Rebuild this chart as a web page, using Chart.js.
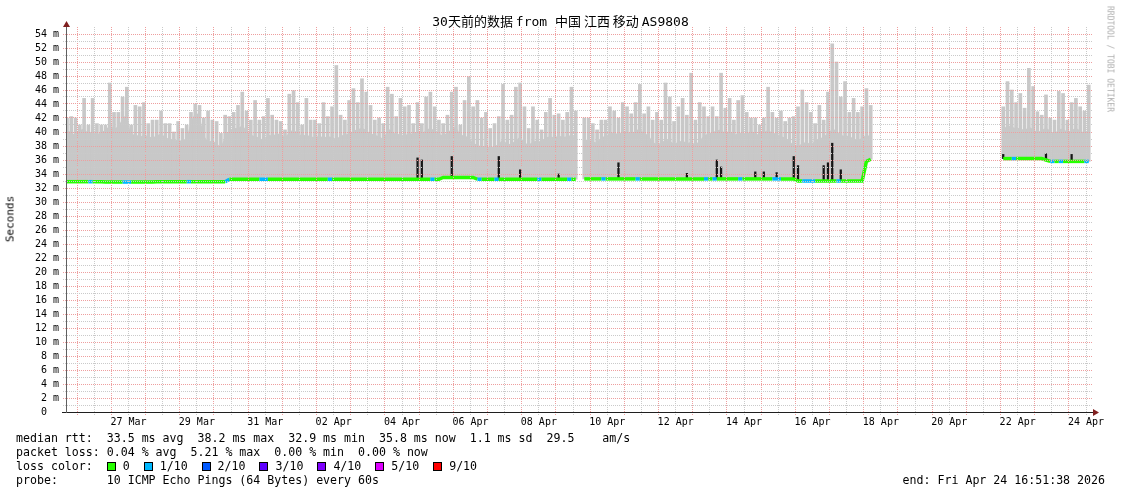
<!DOCTYPE html>
<html>
<head>
<meta charset="utf-8">
<title>SmokePing 30 days</title>
<script src="https://cdn.jsdelivr.net/npm/chart.js@4.4.1/dist/chart.umd.min.js"></script>
<style>
  html, body { margin: 0; padding: 0; background: #fff; }
  #wrap { position: relative; width: 1121px; height: 494px; overflow: hidden; background: #fff; }
  #chart { position: absolute; left: 0; top: 0; }
  .t { position: absolute; font-family: "DejaVu Sans Mono", monospace; white-space: pre; color: #000; }
  #title { left: 0; top: 13px; width: 1121px; text-align: center; font-size: 13px; line-height: 16px;
           font-family: "DejaVu Sans Mono", "Noto Sans CJK SC", monospace; }
  #title .n { font-family: "Noto Sans CJK SC", sans-serif; }
  #ylabel { left: 10px; top: 219px; font-size: 11px; transform: translate(-50%, -50%) rotate(-90deg); }
  #credit { left: 1110px; top: 59px; font-size: 8px; color: #b0b0b0; transform: translate(-50%, -50%) rotate(90deg); }
  .leg { left: 16px; font-size: 11.6px; line-height: 14px; }
  #end { right: 16px; top: 473px; font-size: 11.6px; line-height: 14px; }
  .box { display: inline-block; width: 7px; height: 7px; border: 1px solid #000; margin-right: 7px; vertical-align: -1px; }
</style>
</head>
<body>
<div id="wrap">
  <canvas id="chart" width="1121" height="494"></canvas>
  <div class="t" id="title">30天前的数据<span class="n"> </span>from 中国<span class="n"> </span>江西<span class="n"> </span>移动<span class="n"> </span>AS9808</div>
  <div class="t" id="ylabel">Seconds</div>
  <div class="t" id="credit">RRDTOOL / TOBI OETIKER</div>
  <div class="t leg" style="top:431px">median rtt:  33.5 ms avg  38.2 ms max  32.9 ms min  35.8 ms now  1.1 ms sd  29.5    am/s</div>
  <div class="t leg" style="top:445px">packet loss: 0.04 % avg  5.21 % max  0.00 % min  0.00 % now</div>
  <div class="t leg" id="lossRow" style="top:459px"></div>
  <div class="t leg" style="top:473px">probe:       10 ICMP Echo Pings (64 Bytes) every 60s</div>
  <div class="t" id="end">end: Fri Apr 24 16:51:38 2026</div>
</div>
<script>
// one sample every 3 hours, starting Wed Mar 25 16:51:38 (30 days -> 240 samples)
const STEP_H = 3;
const SPAN_H = 720;
const FIRST_MIDNIGHT_H = 7.1394; // Mar 25 16:51:38 -> Mar 26 00:00

// median rtt (ms)
const median = [
  32.9,32.9,32.9,32.9,32.9,32.9,32.9,32.9,32.9,32.85,
  32.85,32.85,32.85,32.85,32.85,32.85,32.85,32.85,32.85,32.85,
  32.85,32.9,32.9,32.9,32.9,32.9,32.9,32.9,32.9,32.9,
  32.9,32.9,32.9,32.9,32.9,32.9,32.9,32.9,33.25,33.25,
  33.25,33.25,33.25,33.25,33.25,33.25,33.25,33.25,33.25,33.25,
  33.25,33.25,33.25,33.25,33.25,33.25,33.25,33.25,33.25,33.25,
  33.25,33.25,33.25,33.25,33.25,33.25,33.25,33.25,33.25,33.25,
  33.25,33.25,33.25,33.25,33.25,33.25,33.25,33.25,33.25,33.25,
  33.25,33.25,33.25,33.25,33.25,33.25,33.25,33.25,33.5,33.5,
  33.5,33.5,33.5,33.5,33.5,33.5,33.25,33.25,33.25,33.25,
  33.25,33.25,33.25,33.25,33.25,33.25,33.25,33.25,33.25,33.25,
  33.25,33.25,33.25,33.25,33.25,33.25,33.25,33.25,33.25,33.25,
  null,33.3,33.3,33.3,33.3,33.3,33.3,33.3,33.3,33.3,
  33.3,33.3,33.3,33.3,33.3,33.3,33.3,33.3,33.3,33.3,
  33.3,33.3,33.3,33.3,33.3,33.3,33.3,33.3,33.3,33.3,
  33.3,33.3,33.3,33.3,33.3,33.3,33.3,33.3,33.3,33.3,
  33.3,33.3,33.3,33.3,33.3,33.3,33.3,33.3,33.3,33.3,
  33.3,33.0,33.0,33.0,33.0,33.0,33.0,33.0,33.0,33.0,
  33.0,33.0,33.0,33.0,33.0,33.0,33.0,35.8,36.1,null,
  null,null,null,null,null,null,null,null,null,null,
  null,null,null,null,null,null,null,null,null,null,
  null,null,null,null,null,null,null,null,null,36.2,
  36.2,36.2,36.2,36.2,36.2,36.2,36.2,36.2,36.2,36.0,
  35.8,35.8,35.8,35.8,35.8,35.8,35.8,35.8,35.8,35.8
];

// top of the smoke (slowest ping, ms)
const smokeMax = [
  42,42.2,42,41,44.8,41,44.8,41.2,41,41,
  47,42.8,42.8,45,46.4,41,43.8,43.6,44.2,41.2,
  41.7,41.7,43,41.2,41.2,40,41.5,40.5,41,42.8,
  44,43.8,42,43,41.7,41.5,39.8,42.4,42.2,42.8,
  43.8,45.7,43,41.7,44.5,41.7,42.2,44.8,42.4,41.7,
  41.5,40.3,45.4,45.9,44.2,41,44.8,41.7,41.7,41.2,
  44.2,42.2,43.6,49.5,42.4,41.7,44.5,46.2,44.2,47.6,
  45.7,43.8,41.7,42,41.2,46.4,45.4,42.2,44.8,43.6,
  43.8,41.2,44.2,41.2,45,45.7,43.6,41.7,41.2,42.4,
  45.7,46.4,41,44.5,47.9,43.6,44.5,42,42.8,40.5,
  41.2,42.2,46.8,41.7,42.4,46.4,47,43.6,40.5,43.6,
  41.7,40.3,42.8,44.8,42.4,42.6,41.7,42.8,46.4,43,
  null,42,42,41.2,40.3,41.7,41.7,43.6,43,42,
  44.2,43.6,42.6,44.2,46.8,42.6,43.6,41.7,42.8,41.7,
  47,45,41.5,43.6,44.8,42.4,48.4,41.7,44.2,43.6,
  42.2,43.6,42.2,48.4,43.4,44.8,41.7,44.5,45.2,42.8,
  42,42,41,42,46.4,42.8,42,43,41.5,42,
  42.2,43.6,46,44.2,42.8,41.2,43.8,41.7,45.7,52.6,
  50,45,47.2,42.8,44.8,42.8,43.6,46.2,43.8,null,
  null,null,null,null,null,null,null,null,null,null,
  null,null,null,null,null,null,null,null,null,null,
  null,null,null,null,null,null,null,null,null,43.6,
  47.2,46,44.2,45.5,43.4,49.1,46.5,42.9,42.4,45.3,
  42,41.7,45.8,45.5,41.7,44.2,44.8,43.6,43,46.7
];

// level up to which the smoke is dense (ms)
const smokeBase = [
  40.2,40,39.5,40.3,40.5,39.8,40.2,39.6,40,40.3,
  41,40.5,40.8,42,42.5,39.5,39.8,39.3,39.6,39.4,
  39.2,39.5,39.8,39.3,39,38.8,38.9,38.7,39.2,41.5,
  42.8,42.5,39.5,38.6,38.8,38.4,37.8,39.5,40.2,40.6,
  40.5,41,40.2,39.6,39.4,39.2,38.8,39.6,39.5,39.7,
  39.8,39.2,40,40.4,39.8,39.5,39.6,39.4,39.2,39.5,
  39.2,39.4,39.3,39,39.5,39.6,39.8,40.2,40.4,40.6,
  40.3,39.8,39.6,39.4,39,40.5,40.2,39.6,39.8,39.4,
  40,39.6,40.2,39.8,40.3,40.6,40.2,39.7,39.5,40,
  40.4,40.8,39.6,39.5,39.2,38.4,38.2,37.9,38,37.8,
  38,38.3,39,38.2,38.4,38.8,39.4,38.5,38.2,38.6,
  38.8,38.6,39.2,39.4,39.2,39.5,39.3,39.4,39.6,39.2,
  null,38.8,39,38.6,38.5,39.2,39.5,39.8,40,39.6,
  40.2,40,39.8,40.2,40.5,39.8,39.6,38.6,38.2,38.5,
  38.9,38.8,38.3,38.6,38.8,38.4,38.6,38.2,38.8,39.5,
  39.8,40,40.2,40.4,39.8,40.3,39.6,39.8,40,39.7,
  40.2,39.8,39.6,40,40.3,39.9,39.8,39.4,39.2,38.6,
  38.2,38,38.4,38.6,38.2,38.8,39,39.4,39.8,40.5,
  40.2,39.6,39.4,39.5,39,38.8,39.2,39.6,39.4,null,
  null,null,null,null,null,null,null,null,null,null,
  null,null,null,null,null,null,null,null,null,null,
  null,null,null,null,null,null,null,null,null,40.4,
  41,40.8,40.5,40.6,40.2,40.8,40.4,40,40.3,40.6,
  40.2,39.8,40.4,40.5,40,40.3,40.6,40.2,39.9,40.2
];

// dark smoke spikes: sample index and top (ms)
const spikeIdx = [82,83,90,101,106,115,129,145,152,153,161,163,166,170,171,177,178,179,181,219,229,235];
const spikeTop = [36.3,36.0,36.5,36.5,34.6,34.0,35.6,34.1,36.0,35.0,34.3,34.3,34.2,36.5,35.2,35.2,35.6,38.4,34.6,36.8,36.9,36.8];

// samples where 1 of 10 pings was lost
const lossIdx = [6,14,15,29,38,46,47,62,86,97,101,111,118,126,134,150,152,158,166,167,173,174,175,181,222,231,233,239];

// x axis labels, one every 2 days (placed at noon)
const xTickLabels = ['27 Mar','29 Mar','31 Mar','02 Apr','04 Apr','06 Apr','08 Apr','10 Apr',
                     '12 Apr','14 Apr','16 Apr','18 Apr','20 Apr','22 Apr','24 Apr'];

// legend
const lossLabels = ['0','1/10','2/10','3/10','4/10','5/10','9/10'];
const lossColors = ['#26ff00','#00b8ff','#0059ff','#5e00ff','#7e00ff','#dd00ff','#ff0000'];

const SMOKE = '#c8c8c8';
const GRID_MAJOR = '#ee9f9f';
const GRID_MINOR = '#cacaca';

// legend row with colour boxes
const lossRow = document.getElementById('lossRow');
let html = 'loss color:  ';
lossLabels.forEach((l, i) => {
    html += '<span class="box" style="background:' + lossColors[i] + '"></span>' + l + '  ';
});
lossRow.innerHTML = html;

// x grid: midnight (major) and noon (minor) for each of the 30 days
const xTicks = [];
for (let d = 0; d < 30; d++) {
    const mid = FIRST_MIDNIGHT_H + d * 24;
    xTicks.push({ value: mid, major: true, label: '' });
    xTicks.push({ value: mid + 12, major: false, label: (d % 2 === 1) ? xTickLabels[(d - 1) / 2] : '' });
}

const lossSet = new Set(lossIdx);
const hourAt = i => i * STEP_H;

const smokeBars = [];
smokeMax.forEach((v, i) => {
    if (v !== null && median[i] !== null) smokeBars.push({ x: hourAt(i), y: [median[i], v] });
});
const spikeBars = spikeIdx.map((k, j) => ({ x: hourAt(k), y: [median[k], spikeTop[j]] }));

const axesPlugin = {
    id: 'rrdAxes',
    afterDraw(chart) {
        const { ctx, chartArea: a } = chart;
        ctx.save();
        // x axis
        ctx.strokeStyle = '#1f1f1f';
        ctx.lineWidth = 1;
        ctx.beginPath();
        ctx.moveTo(a.left - 5, a.bottom + 0.5);
        ctx.lineTo(a.right + 1, a.bottom + 0.5);
        ctx.stroke();
        // y axis
        ctx.strokeStyle = '#606060';
        ctx.beginPath();
        ctx.moveTo(a.left - 0.5, a.bottom + 1);
        ctx.lineTo(a.left - 0.5, a.top - 1);
        ctx.stroke();
        // arrows
        ctx.fillStyle = '#801f1f';
        ctx.beginPath();
        ctx.moveTo(a.right, a.bottom - 3);
        ctx.lineTo(a.right, a.bottom + 4);
        ctx.lineTo(a.right + 6, a.bottom + 0.5);
        ctx.closePath();
        ctx.fill();
        ctx.beginPath();
        ctx.moveTo(a.left - 4, a.top);
        ctx.lineTo(a.left + 3, a.top);
        ctx.lineTo(a.left - 0.5, a.top - 6);
        ctx.closePath();
        ctx.fill();
        ctx.restore();
    }
};

const ctx = document.getElementById('chart').getContext('2d');
const chart = new Chart(ctx, {
    type: 'line',
    data: {
        datasets: [
            {
                type: 'line',
                label: 'median rtt',
                data: median.map((v, i) => ({ x: hourAt(i), y: v })),
                borderColor: lossColors[0],
                borderWidth: 3.5,
                borderCapStyle: 'butt',
                pointRadius: 0,
                fill: false,
                spanGaps: false,
                tension: 0,
                order: 0,
                segment: {
                    borderColor: c => lossSet.has(c.p1DataIndex) ? lossColors[1] : lossColors[0]
                }
            },
            {
                type: 'bar',
                label: 'spikes',
                data: spikeBars,
                backgroundColor: '#151515',
                borderWidth: 0,
                barThickness: 1.6,
                grouped: false,
                order: 1
            },
            {
                type: 'bar',
                label: 'smoke',
                data: smokeBars,
                backgroundColor: SMOKE,
                borderWidth: 0,
                barThickness: 3,
                grouped: false,
                order: 2
            },
            {
                type: 'line',
                label: 'smoke base',
                data: smokeBase.map((v, i) => ({ x: hourAt(i), y: v })),
                borderWidth: 0,
                borderColor: SMOKE,
                backgroundColor: SMOKE,
                pointRadius: 0,
                spanGaps: false,
                tension: 0,
                fill: { target: 0 },
                order: 3
            }
        ]
    },
    options: {
        responsive: false,
        devicePixelRatio: 1,
        animation: false,
        layout: { padding: { left: 0, right: 28, top: 27, bottom: 0 } },
        plugins: {
            legend: { display: false },
            tooltip: { enabled: false },
            title: { display: false }
        },
        scales: {
            x: {
                type: 'linear',
                min: 0,
                max: SPAN_H,
                offset: false,
                afterFit: s => { s.height = 82; },
                afterBuildTicks: s => { s.ticks = xTicks.map(t => ({ value: t.value })); },
                grid: {
                    z: 1,
                    offset: false,
                    color: c => (xTicks[c.index] && xTicks[c.index].major) ? GRID_MAJOR : GRID_MINOR,
                    tickLength: 3,
                    tickBorderDash: [1, 1]
                },
                border: { display: false, dash: [1, 1] },
                ticks: {
                    autoSkip: false,
                    maxRotation: 0,
                    padding: 1,
                    color: '#000',
                    font: { family: 'DejaVu Sans Mono', size: 10 },
                    callback: (v, i) => xTicks[i] ? xTicks[i].label : ''
                }
            },
            y: {
                type: 'linear',
                min: 0,
                max: 55,
                afterFit: s => { s.width = 67; },
                grid: {
                    z: 1,
                    color: c => c.tick.value === 55 ? 'rgba(0,0,0,0)' : (c.tick.value % 2 === 0 ? GRID_MAJOR : GRID_MINOR),
                    tickLength: 4,
                    tickBorderDash: [1, 1]
                },
                border: { display: false, dash: [1, 1] },
                ticks: {
                    stepSize: 1,
                    autoSkip: false,
                    padding: 4,
                    color: '#000',
                    font: { family: 'DejaVu Sans Mono', size: 10 },
                    callback: v => v % 2 !== 0 ? '' : (v === 0 ? '0  ' : v + ' m')
                }
            }
        }
    },
    plugins: [axesPlugin]
});
</script>
</body>
</html>
